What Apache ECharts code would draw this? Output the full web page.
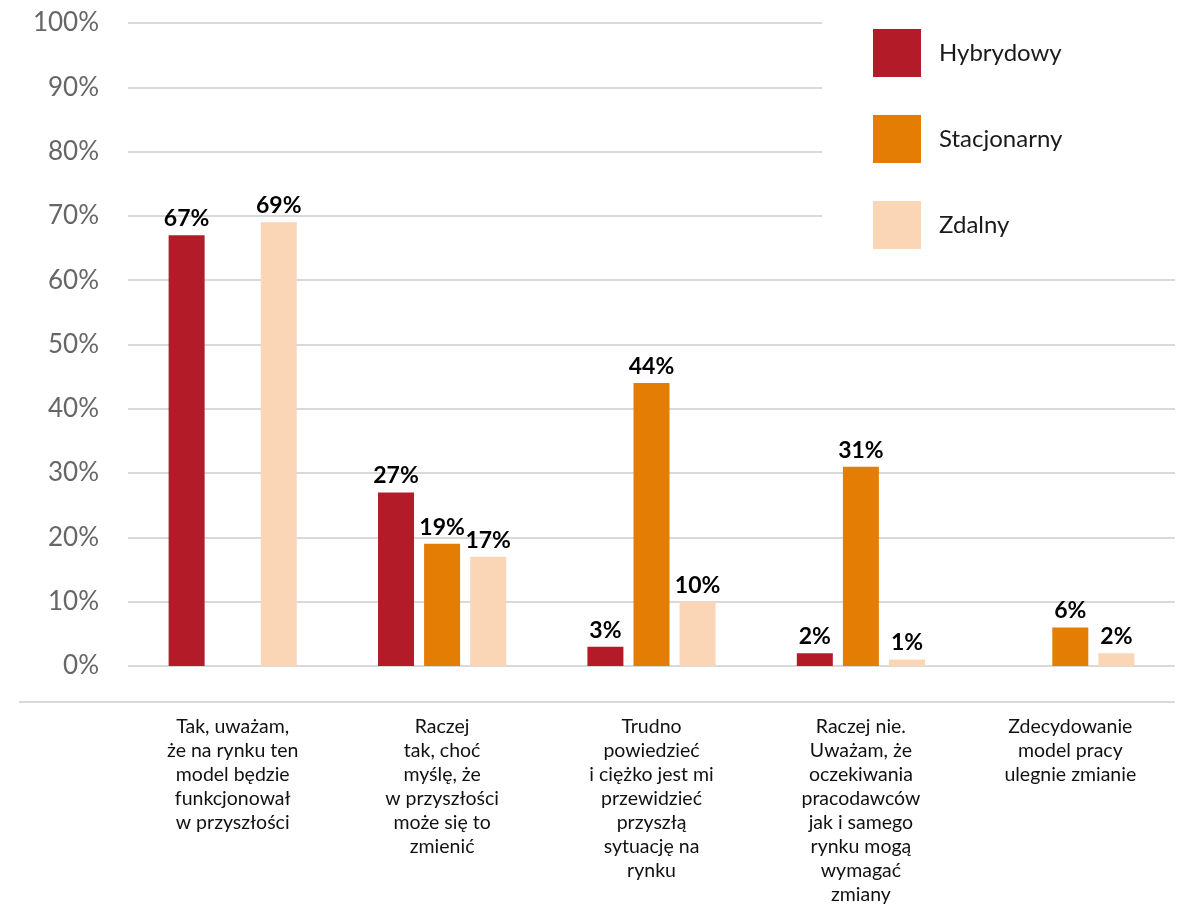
<!DOCTYPE html>
<html>
<head>
<meta charset="utf-8">
<script src="https://cdn.jsdelivr.net/npm/echarts@6/dist/echarts.min.js"></script>
<style>
  html, body { margin: 0; padding: 0; background: #fff; }
  #chart { width: 1192px; height: 904px; }
</style>
</head>
<body>
<div id="chart"></div>
<script>
// Survey answers (categories) and shares per work model, in percent.
const categories = [
  'Tak, uważam,\nże na rynku ten\nmodel będzie\nfunkcjonował\nw przyszłości',
  'Raczej\ntak, choć\nmyślę, że\nw przyszłości\nmoże się to\nzmienić',
  'Trudno\npowiedzieć\ni ciężko jest mi\nprzewidzieć\nprzyszłą\nsytuację na\nrynku',
  'Raczej nie.\nUważam, że\noczekiwania\npracodawców\njak i samego\nrynku mogą\nwymagać\nzmiany',
  'Zdecydowanie\nmodel pracy\nulegnie zmianie'
];
const seriesNames = ['Hybrydowy', 'Stacjonarny', 'Zdalny'];
const hybrydowy = [67, 27, 3, 2, null];
const stacjonarny = [null, 19, 44, 31, 6];
const zdalny = [69, 17, 10, 1, 2];
const yTicks = [0, 10, 20, 30, 40, 50, 60, 70, 80, 90, 100];

const colors = ['#B31B29', '#E47D04', '#FAD6B6'];
const FONT = 'Lato, "Open Sans", sans-serif';

const chart = echarts.init(document.getElementById('chart'));

function barSeries(name, data, color) {
  return {
    name: name,
    type: 'bar',
    data: data,
    barWidth: 36,
    barGap: '28%',
    itemStyle: { color: color },
    label: {
      show: true,
      position: 'top',
      distance: 5,
      formatter: p => p.value == null ? '' : p.value + '%',
      fontFamily: FONT,
      fontWeight: 'bold',
      fontSize: 23,
      color: '#000'
    }
  };
}

chart.setOption({
  backgroundColor: '#fff',
  animation: false,
  grid: {
    left: 128, right: 17, top: 23, bottom: 238,
    containLabel: false,
    outerBoundsMode: 'none'
  },
  legend: {
    orient: 'vertical',
    left: 868,
    top: 24,
    itemWidth: 48,
    itemHeight: 48,
    itemGap: 38,
    icon: 'rect',
    data: seriesNames,
    textStyle: {
      fontFamily: FONT,
      fontSize: 24,
      color: '#1a1a1a',
      padding: [0, 0, 0, 13]
    }
  },
  xAxis: {
    type: 'category',
    data: categories,
    axisLine: { show: false },
    axisTick: { show: false },
    axisLabel: {
      interval: 0,
      margin: 49,
      fontFamily: FONT,
      fontSize: 19.5,
      lineHeight: 24,
      color: '#111',
      align: 'center'
    }
  },
  yAxis: {
    type: 'value',
    min: yTicks[0],
    max: yTicks[yTicks.length - 1],
    interval: 10,
    axisLine: { show: false },
    axisTick: { show: false },
    axisLabel: {
      formatter: '{value}%',
      margin: 29,
      fontFamily: FONT,
      fontSize: 26,
      color: '#666'
    },
    splitLine: { lineStyle: { color: '#D9D9D9', width: 2 } }
  },
  graphic: [
    {
      // white panel behind the legend hides the gridlines there
      type: 'rect',
      z: 3,
      shape: { x: 822, y: 0, width: 370, height: 258 },
      style: { fill: '#fff' }
    },
    {
      // baseline separating the plot from the category labels
      type: 'line',
      z: 3,
      shape: { x1: 19, y1: 702, x2: 1175, y2: 702 },
      style: { stroke: '#D9D9D9', lineWidth: 2 }
    }
  ],
  series: [
    barSeries(seriesNames[0], hybrydowy, colors[0]),
    barSeries(seriesNames[1], stacjonarny, colors[1]),
    barSeries(seriesNames[2], zdalny, colors[2])
  ]
});
</script>
</body>
</html>
